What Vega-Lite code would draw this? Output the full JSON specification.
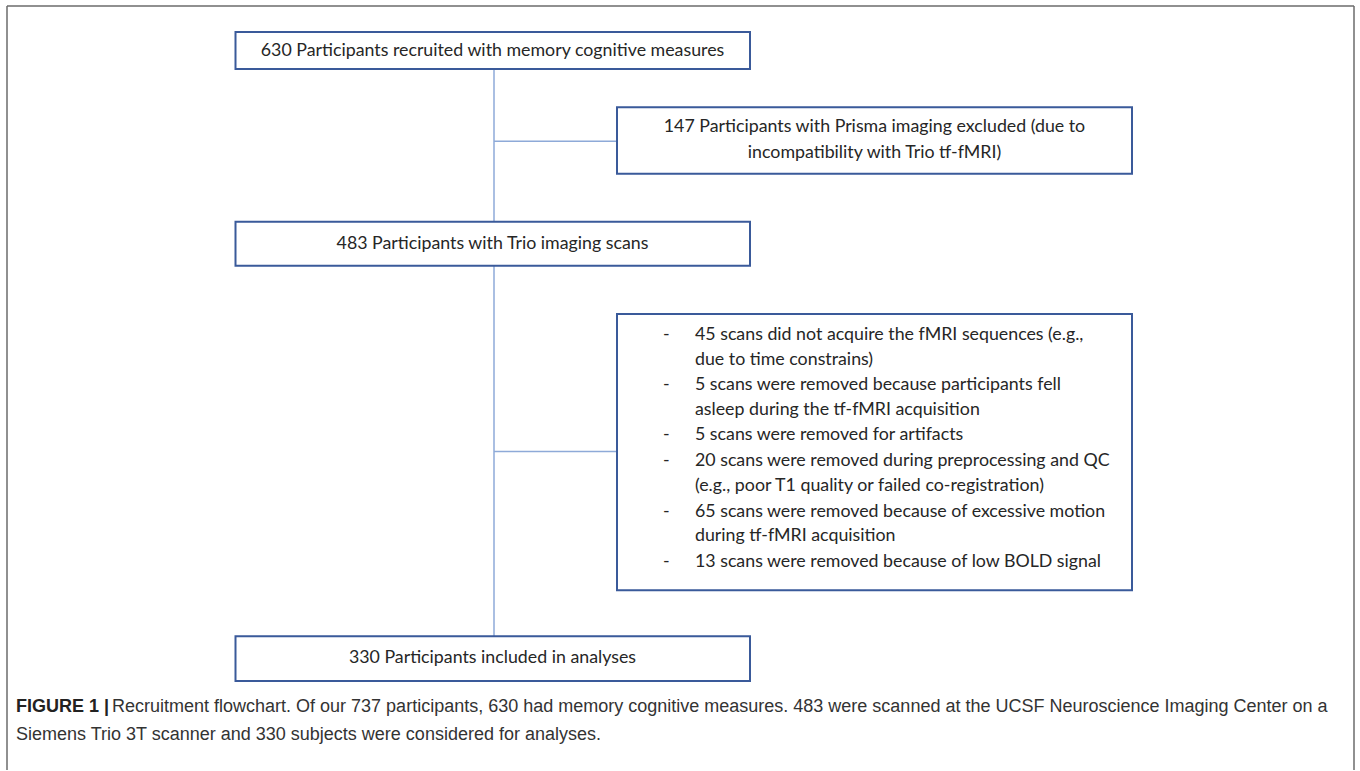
{
  "$schema": "https://vega.github.io/schema/vega-lite/v6.json",
  "width": 1360,
  "height": 771,
  "autosize": {"type": "fit", "contains": "padding"},
  "padding": 0,
  "background": "white",
  "config": {"view": {"stroke": null}},
  "datasets": {
    "frame": [
      {"x": 7, "y": 6, "x2": 7, "y2": 771},
      {"x": 7, "y": 6, "x2": 1354, "y2": 6},
      {"x": 1354, "y": 6, "x2": 1354, "y2": 771}
    ],
    "links": [
      {"x": 494, "y": 69, "x2": 494, "y2": 637},
      {"x": 494, "y": 141.5, "x2": 617, "y2": 141.5},
      {"x": 494, "y": 452, "x2": 617, "y2": 452}
    ],
    "boxes": [
      {"id": "recruited", "x": 235.5, "x2": 750, "y": 32, "y2": 69},
      {"id": "prisma", "x": 617, "x2": 1132, "y": 107.5, "y2": 174},
      {"id": "trio", "x": 235.5, "x2": 750, "y": 222, "y2": 266},
      {"id": "excluded", "x": 617, "x2": 1132, "y": 314.5, "y2": 591},
      {"id": "included", "x": 235.5, "x2": 750, "y": 637, "y2": 682}
    ],
    "centerLabels": [
      {"x": 492.5, "y": 51, "text": "630 Participants recruited with memory cognitive measures"},
      {"x": 874.5, "y": 127, "text": "147 Participants with Prisma imaging excluded (due to"},
      {"x": 874.5, "y": 153, "text": "incompatibility with Trio tf-fMRI)"},
      {"x": 492.5, "y": 244, "text": "483 Participants with Trio imaging scans"},
      {"x": 492.5, "y": 659, "text": "330 Participants included in analyses"}
    ],
    "dashes": [
      {"x": 663, "y": 335, "text": "-"},
      {"x": 663, "y": 385, "text": "-"},
      {"x": 663, "y": 436, "text": "-"},
      {"x": 663, "y": 462, "text": "-"},
      {"x": 663, "y": 513, "text": "-"},
      {"x": 663, "y": 563, "text": "-"}
    ],
    "listLabels": [
      {"x": 695, "y": 335, "text": "45 scans did not acquire the fMRI sequences (e.g.,"},
      {"x": 695, "y": 360, "text": "due to time constrains)"},
      {"x": 695, "y": 385, "text": "5 scans were removed because participants fell"},
      {"x": 695, "y": 411, "text": "asleep during the tf-fMRI acquisition"},
      {"x": 695, "y": 436, "text": "5 scans were removed for artifacts"},
      {"x": 695, "y": 462, "text": "20 scans were removed during preprocessing and QC"},
      {"x": 695, "y": 487, "text": "(e.g., poor T1 quality or failed co-registration)"},
      {"x": 695, "y": 513, "text": "65 scans were removed because of excessive motion"},
      {"x": 695, "y": 537, "text": "during tf-fMRI acquisition"},
      {"x": 695, "y": 563, "text": "13 scans were removed because of low BOLD signal"}
    ],
    "captionBold": [
      {"x": 16, "y": 708, "text": "FIGURE 1 |"}
    ],
    "caption": [
      {"x": 112, "y": 708, "text": "Recruitment flowchart. Of our 737 participants, 630 had memory cognitive measures. 483 were scanned at the UCSF Neuroscience Imaging Center on a"},
      {"x": 16, "y": 736, "text": "Siemens Trio 3T scanner and 330 subjects were considered for analyses."}
    ]
  },
  "encoding": {
    "x": {"field": "x", "type": "quantitative", "scale": {"domain": [0, 1360], "nice": false, "zero": false}, "axis": null},
    "y": {"field": "y", "type": "quantitative", "scale": {"domain": [0, 771], "nice": false, "zero": false, "reverse": true}, "axis": null}
  },
  "layer": [
    {
      "data": {"name": "frame"},
      "mark": {"type": "rule", "color": "#6b6b6b", "strokeWidth": 1.5},
      "encoding": {"x2": {"field": "x2"}, "y2": {"field": "y2"}}
    },
    {
      "data": {"name": "links"},
      "mark": {"type": "rule", "color": "#8eaad8", "strokeWidth": 1.5},
      "encoding": {"x2": {"field": "x2"}, "y2": {"field": "y2"}}
    },
    {
      "data": {"name": "boxes"},
      "mark": {"type": "rect", "fill": "white", "stroke": "#3a5a9a", "strokeWidth": 2},
      "encoding": {"x2": {"field": "x2"}, "y2": {"field": "y2"}}
    },
    {
      "data": {"name": "centerLabels"},
      "mark": {"type": "text", "align": "center", "baseline": "middle", "font": "Lato", "fontSize": 17.8, "color": "#262626"},
      "encoding": {"text": {"field": "text"}}
    },
    {
      "data": {"name": "dashes"},
      "mark": {"type": "text", "align": "left", "baseline": "middle", "font": "Lato", "fontSize": 17.8, "color": "#262626"},
      "encoding": {"text": {"field": "text"}}
    },
    {
      "data": {"name": "listLabels"},
      "mark": {"type": "text", "align": "left", "baseline": "middle", "font": "Lato", "fontSize": 17.8, "color": "#262626"},
      "encoding": {"text": {"field": "text"}}
    },
    {
      "data": {"name": "captionBold"},
      "mark": {"type": "text", "align": "left", "baseline": "middle", "font": "Liberation Sans", "fontSize": 18, "fontWeight": "bold", "color": "#222222"},
      "encoding": {"text": {"field": "text"}}
    },
    {
      "data": {"name": "caption"},
      "mark": {"type": "text", "align": "left", "baseline": "middle", "font": "Liberation Sans", "fontSize": 18, "color": "#333333"},
      "encoding": {"text": {"field": "text"}}
    }
  ]
}
